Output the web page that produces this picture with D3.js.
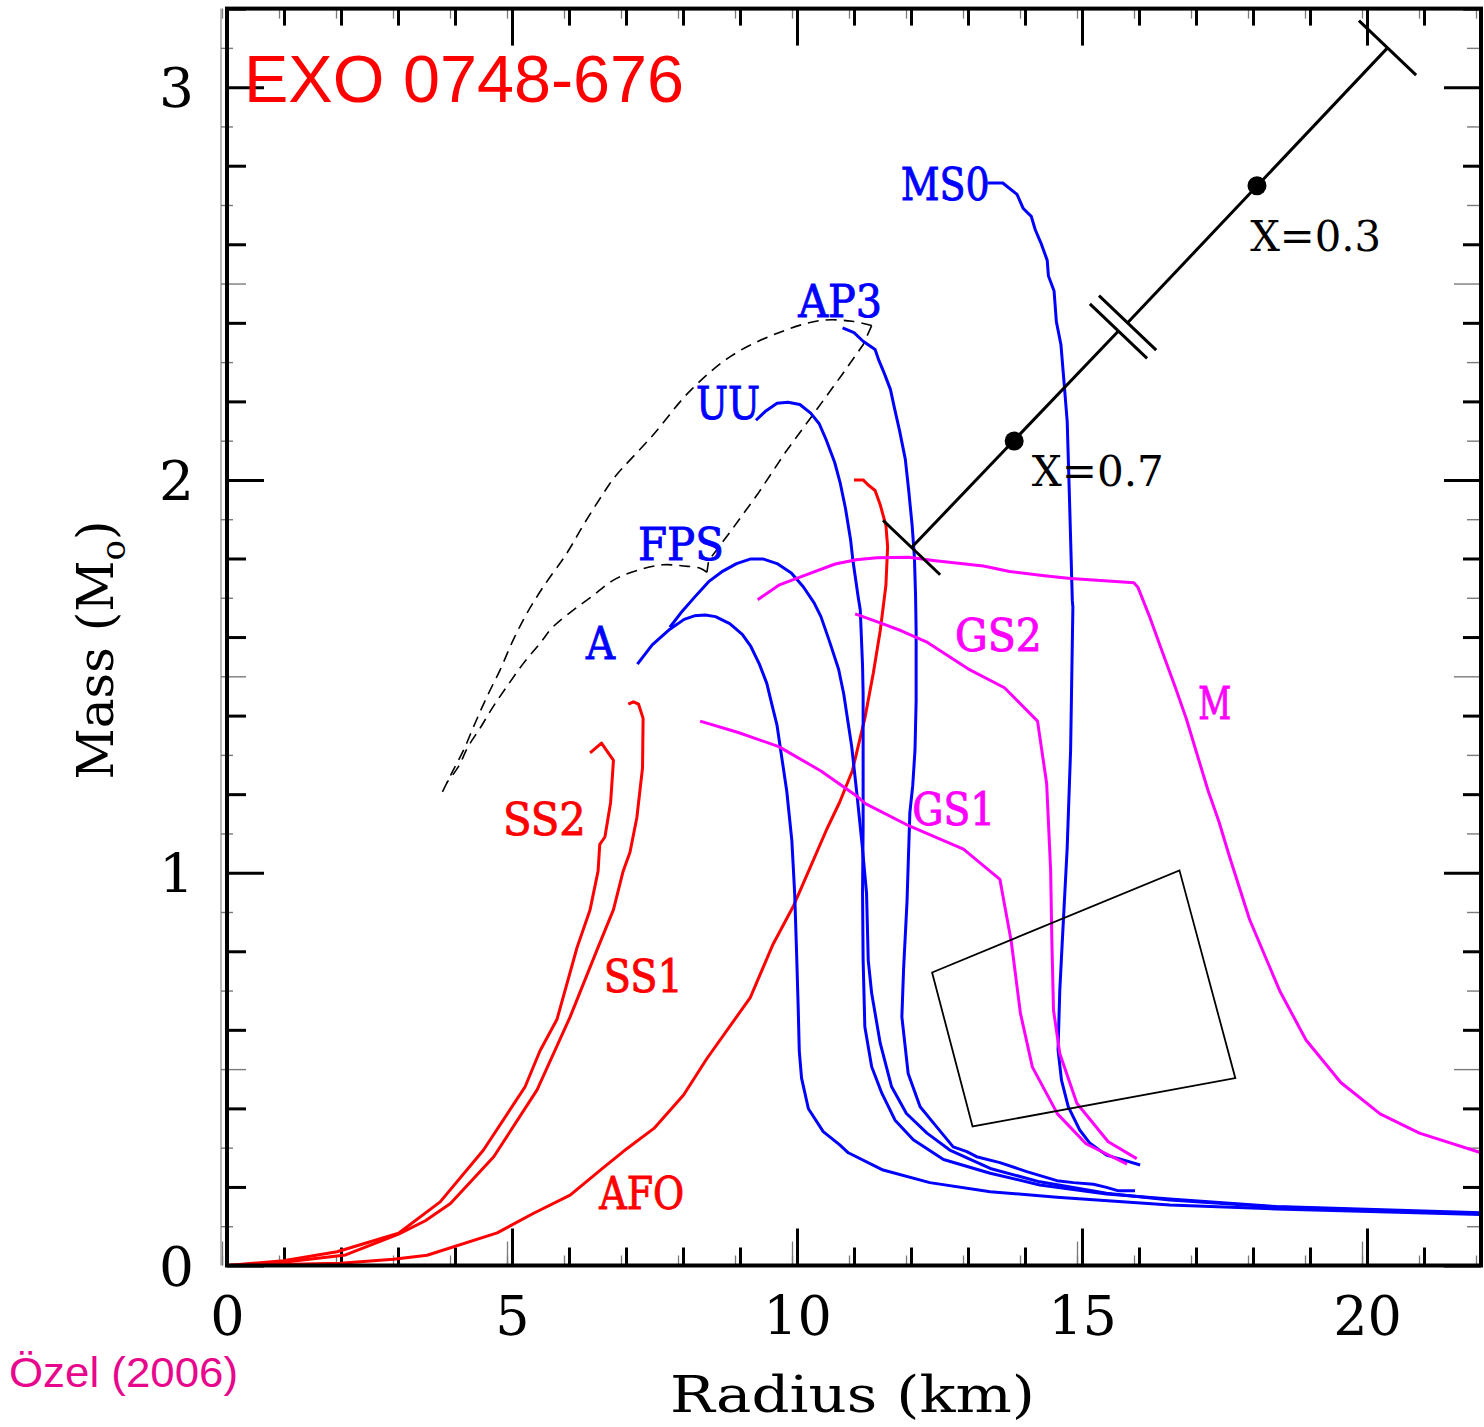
<!DOCTYPE html>
<html>
<head>
<meta charset="utf-8">
<script src="https://cdn.jsdelivr.net/npm/d3@7"></script>
<style>
html,body{margin:0;padding:0;background:#fff;}
svg{display:block;}
</style>
</head>
<body>
<svg id="chart" width="1484" height="1427"></svg>
<script>
// ---------------- DATA (radius in km, mass in solar masses) ----------------
const xTickLabels = [0, 5, 10, 15, 20];
const yTickLabels = [0, 1, 2, 3];

// strange-star / red curves
const eosAFO = [[0,0],[1.99,0.006],[2.92,0.016],[3.51,0.026],[4.74,0.083],[5.38,0.133],[6.02,0.179],[6.55,0.243],[7.02,0.298],[7.49,0.349],[8.01,0.434],[8.42,0.527],[9.18,0.682],[9.58,0.818],[9.94,0.916],[10.23,1.013],[10.52,1.110],[10.75,1.18],[10.97,1.259],[11.19,1.393],[11.34,1.509],[11.46,1.616],[11.56,1.732],[11.59,1.830],[11.56,1.884],[11.46,1.937],[11.37,1.973],[11.25,1.987],[11.16,2.0],[11.0,2.0]];
const eosSS1 = [[0,0],[0.99,0.008],[2.08,0.027],[3.01,0.080],[3.48,0.114],[3.92,0.158],[4.68,0.277],[5.44,0.447],[6.02,0.633],[6.49,0.803],[6.78,0.906],[6.95,1.004],[7.07,1.052],[7.19,1.140],[7.29,1.267],[7.30,1.393],[7.22,1.429],[7.13,1.435],[7.04,1.429]];
const eosSS2 = [[0,0],[0.99,0.012],[1.93,0.035],[3.01,0.082],[3.74,0.162],[4.50,0.294],[5.23,0.455],[5.49,0.546],[5.79,0.627],[6.14,0.809],[6.37,0.906],[6.51,1.004],[6.54,1.072],[6.63,1.091],[6.73,1.179],[6.78,1.286],[6.57,1.330],[6.37,1.305]];

// nucleonic / blue curves
const eosA = [[7.20,1.531],[7.46,1.580],[7.77,1.620],[8.02,1.645],[8.20,1.654],[8.39,1.656],[8.57,1.652],[8.82,1.634],[9.04,1.607],[9.19,1.576],[9.34,1.531],[9.47,1.482],[9.56,1.428],[9.65,1.375],[9.73,1.296],[9.82,1.208],[9.91,1.081],[9.96,0.945],[9.99,0.809],[10.02,0.662],[10.04,0.546],[10.08,0.477],[10.20,0.399],[10.46,0.341],[10.75,0.307],[10.90,0.287],[11.51,0.243],[12.33,0.211],[13.39,0.188],[14.56,0.174],[16.54,0.154],[18.41,0.144],[22.0,0.130]];
const eosFPS = [[7.77,1.625],[7.96,1.661],[8.20,1.701],[8.45,1.741],[8.70,1.768],[8.94,1.787],[9.19,1.799],[9.40,1.799],[9.65,1.787],[9.90,1.763],[10.11,1.728],[10.30,1.687],[10.42,1.652],[10.57,1.589],[10.73,1.518],[10.82,1.455],[10.96,1.321],[11.05,1.202],[11.14,1.075],[11.22,0.948],[11.25,0.777],[11.31,0.693],[11.46,0.566],[11.66,0.455],[11.92,0.387],[12.28,0.337],[12.68,0.294],[13.39,0.247],[14.26,0.213],[15.43,0.184],[16.54,0.167],[18.41,0.149],[22.0,0.132]];
const eosUU = [[9.28,2.152],[9.44,2.174],[9.65,2.195],[9.84,2.198],[10.05,2.192],[10.24,2.170],[10.39,2.143],[10.51,2.103],[10.66,2.045],[10.76,1.991],[10.85,1.928],[10.94,1.848],[10.98,1.796],[11.07,1.705],[11.11,1.669],[11.15,1.527],[11.16,1.457],[11.16,1.117],[11.15,0.948],[11.16,0.778],[11.19,0.608],[11.31,0.506],[11.49,0.438],[11.72,0.370],[12.04,0.320],[12.57,0.270],[13.39,0.235],[14.26,0.205],[15.43,0.182],[16.54,0.169],[18.41,0.150],[22.0,0.134]];
const eosAP3 = [[10.80,2.387],[11.00,2.375],[11.16,2.353],[11.37,2.332],[11.44,2.303],[11.53,2.272],[11.64,2.230],[11.71,2.183],[11.80,2.125],[11.90,2.053],[11.96,1.973],[12.02,1.884],[12.06,1.803],[12.08,1.705],[12.09,1.616],[12.09,1.437],[12.07,1.312],[12.03,1.221],[11.98,1.153],[11.93,0.926],[11.87,0.755],[11.84,0.633],[11.95,0.489],[12.16,0.404],[12.45,0.353],[12.74,0.302],[12.98,0.290],[13.15,0.277],[13.56,0.262],[14.03,0.239],[14.56,0.216],[14.85,0.211],[15.20,0.207],[15.43,0.199],[15.64,0.190],[15.93,0.190]];
const eosMS0 = [[13.34,2.756],[13.61,2.756],[13.86,2.727],[13.97,2.691],[14.11,2.671],[14.18,2.637],[14.28,2.603],[14.39,2.559],[14.41,2.520],[14.51,2.481],[14.55,2.403],[14.63,2.345],[14.68,2.257],[14.74,2.150],[14.78,1.955],[14.83,1.694],[14.84,1.676],[14.80,1.312],[14.74,1.063],[14.65,0.813],[14.61,0.699],[14.58,0.549],[14.64,0.472],[14.76,0.404],[14.96,0.345],[15.14,0.311],[15.43,0.281],[15.72,0.269],[16.02,0.256]];

// hybrid / magenta curves
const eosGS1 = [[8.30,1.386],[8.97,1.357],[9.68,1.321],[10.42,1.259],[11.04,1.196],[11.20,1.176],[11.97,1.119],[12.92,1.060],[13.56,0.983],[13.76,0.824],[13.92,0.642],[14.13,0.505],[14.57,0.386],[15.07,0.310],[15.79,0.258]];
const eosGS2 = [[11.02,1.659],[11.46,1.636],[11.83,1.616],[12.27,1.588],[13.00,1.519],[13.64,1.471],[14.22,1.386],[14.38,1.227],[14.45,1.006],[14.47,0.835],[14.50,0.650],[14.61,0.540],[14.91,0.413],[15.46,0.315],[15.96,0.272]];
const eosM = [[9.31,1.695],[9.68,1.732],[10.17,1.759],[10.67,1.786],[11.04,1.797],[11.40,1.802],[11.96,1.803],[12.39,1.795],[13.27,1.781],[13.73,1.767],[14.34,1.756],[14.80,1.749],[15.33,1.744],[15.91,1.738],[15.98,1.727],[16.18,1.654],[16.41,1.562],[16.64,1.471],[16.83,1.392],[17.02,1.301],[17.21,1.210],[17.40,1.131],[17.59,1.040],[17.94,0.881],[18.47,0.699],[18.93,0.574],[19.54,0.466],[20.23,0.386],[20.92,0.337],[22.0,0.287]];

// dashed boundary: outer arc, diagonal, inner arc
const dashedOuter = [[3.78,1.206],[3.94,1.253],[4.15,1.312],[4.35,1.380],[4.56,1.448],[4.79,1.516],[5.02,1.592],[5.26,1.660],[5.55,1.728],[5.96,1.813],[6.28,1.892],[6.70,1.987],[6.81,2.009],[7.46,2.112],[8.12,2.226],[8.85,2.316],[9.68,2.375],[10.42,2.406],[10.97,2.404],[11.31,2.393]];
const dashedDiag = [[11.31,2.393],[11.16,2.344],[10.79,2.268],[10.30,2.170],[9.80,2.071],[9.31,1.964],[8.82,1.866],[8.45,1.795],[8.42,1.765]];
const dashedInner = [[8.42,1.765],[8.30,1.775],[8.01,1.781],[7.65,1.784],[7.25,1.772],[6.78,1.745],[6.40,1.703],[6.08,1.669],[5.72,1.626],[5.49,1.584],[5.20,1.533],[4.91,1.474],[4.67,1.423],[4.44,1.368],[4.23,1.321],[4.06,1.270],[3.85,1.228]];

// redshift constraint line, hydrogen fraction points, and the error box
const errorBarLow = [[12.01,1.828],[15.64,2.379]];
const errorBarHigh = [[15.80,2.400],[20.36,3.100]];
const hydrogenPoints = [[13.81,2.099],[18.07,2.749]];
const hydrogenLabels = ['X=0.7','X=0.3'];
const constraintBox = [[12.37,0.746],[16.71,1.006],[17.69,0.477],[13.08,0.354]];

// ---------------- LAYOUT ----------------
const RED = '#ff0000', BLUE = '#0000ff', MAG = '#ff00ff';
const curves = [
  {name:'AFO', pts:eosAFO, color:RED},
  {name:'SS1', pts:eosSS1, color:RED},
  {name:'SS2', pts:eosSS2, color:RED},
  {name:'A',   pts:eosA,   color:BLUE},
  {name:'FPS', pts:eosFPS, color:BLUE},
  {name:'UU',  pts:eosUU,  color:BLUE},
  {name:'AP3', pts:eosAP3, color:BLUE},
  {name:'MS0', pts:eosMS0, color:BLUE},
  {name:'GS1', pts:eosGS1, color:MAG},
  {name:'GS2', pts:eosGS2, color:MAG},
  {name:'M',   pts:eosM,   color:MAG}
];
// label anchor (left, baseline) in data coordinates, and text length in px
const labelPlace = {
  MS0:[11.82,2.713,89], AP3:[10.02,2.416,84], UU:[8.23,2.156,64], FPS:[7.21,1.795,86],
  A:[6.30,1.544,29], SS2:[4.84,1.096,83], SS1:[6.61,0.696,79], AFO:[6.53,0.144,85],
  GS2:[12.77,1.564,87], GS1:[12.02,1.121,83], M:[17.04,1.392,33]
};
const hLabelPlace = [[14.12,1.984,132],[17.95,2.583,131]];

const svg = d3.select('#chart');
const x = d3.scaleLinear().domain([0, 22]).range([227, 1481]);
const y = d3.scaleLinear().domain([0, 3.2]).range([1265.5, 8.6]);
const SERIF = "'DejaVu Serif', serif";
const SANS = "'Liberation Sans', Arial, sans-serif";

// ghost line left of the y axis
svg.append('line').attr('x1',221).attr('x2',221).attr('y1',y(3.2)).attr('y2',y(0))
  .attr('stroke','#8a8a8a').attr('stroke-width',1.2);

function drawAxis(gen, tx, ty, color, width){
  const g = svg.append('g').attr('transform',`translate(${tx},${ty})`).call(gen);
  g.select('.domain').remove();
  g.selectAll('.tick line').attr('stroke',color).attr('stroke-width',width);
  return g;
}
const ints = d3.range(0,23);
const fives = xTickLabels;
const tenthIdx = d3.range(0,33);
const yInt = tenthIdx.filter(i=>i%10===0).map(i=>i/10);
const yHalf = tenthIdx.filter(i=>i%5===0 && i%10!==0).map(i=>i/10);
const yEven = tenthIdx.filter(i=>i%2===0 && i%10!==0).map(i=>i/10);
const yOdd = tenthIdx.filter(i=>i%2===1 && i%5!==0).map(i=>i/10);
const GREY = '#7a7a7a';

// bottom axis
drawAxis(d3.axisBottom(x).tickValues(ints).tickSize(-10).tickFormat(''), -5, y(0), GREY, 1.3);
drawAxis(d3.axisBottom(x).tickValues(fives).tickSize(-24).tickFormat(''), -5, y(0), GREY, 1.3);
drawAxis(d3.axisBottom(x).tickValues(ints).tickSize(-18).tickFormat(''), 0, y(0), '#000', 3);
const gb = drawAxis(d3.axisBottom(x).tickValues(fives).tickSize(-37).tickPadding(31).tickFormat(d3.format('d')), 0, y(0), '#000', 3);
gb.attr('font-family', SERIF).attr('font-size', 54);
gb.selectAll('text').attr('fill','#000');

// top axis
drawAxis(d3.axisTop(x).tickValues(ints).tickSize(-10).tickFormat(''), -5, y(3.2), GREY, 1.3);
drawAxis(d3.axisTop(x).tickValues(ints).tickSize(-17).tickFormat(''), 0, y(3.2), '#000', 3);
drawAxis(d3.axisTop(x).tickValues(fives).tickSize(-37).tickFormat(''), 0, y(3.2), '#000', 3);

// left axis
drawAxis(d3.axisLeft(y).tickValues(yOdd).tickSize(-12).tickFormat(''), 221, 0, GREY, 1.4);
drawAxis(d3.axisLeft(y).tickValues(yHalf).tickSize(-25).tickFormat(''), 221, 0, GREY, 1.4);
drawAxis(d3.axisLeft(y).tickValues(yEven).tickSize(-19).tickFormat(''), 227, 0, '#000', 3);
const gl = drawAxis(d3.axisLeft(y).tickValues(yTickLabels).tickSize(-37).tickPadding(33).tickFormat(d3.format('d')), 227, 0, '#000', 3);
gl.attr('font-family', SERIF).attr('font-size', 55);
gl.selectAll('text').attr('fill','#000').attr('dy','0.36em');

// right axis
drawAxis(d3.axisRight(y).tickValues(yOdd).tickSize(-14).tickFormat(''), 1481, 0, GREY, 1.4);
drawAxis(d3.axisRight(y).tickValues(yHalf).tickSize(-27).tickFormat(''), 1481, 0, GREY, 1.4);
drawAxis(d3.axisRight(y).tickValues(yEven).tickSize(-18).tickFormat(''), 1481, 0, '#000', 3);
drawAxis(d3.axisRight(y).tickValues(yInt).tickSize(-37).tickFormat(''), 1481, 0, '#000', 3);

// curves
const line = d3.line().x(d=>x(d[0])).y(d=>y(d[1]));
const smooth = d3.line().x(d=>x(d[0])).y(d=>y(d[1])).curve(d3.curveCatmullRom.alpha(0.5));
const plot = svg.append('g');
[dashedOuter, dashedDiag, dashedInner].forEach((seg,i)=>{
  plot.append('path').datum(seg).attr('d', i===1 ? line : smooth)
    .attr('fill','none').attr('stroke','#000').attr('stroke-width',1.6).attr('stroke-dasharray','11,7');
});
curves.forEach(c=>{
  plot.append('path').datum(c.pts).attr('d', line)
    .attr('fill','none').attr('stroke',c.color).attr('stroke-width',3)
    .attr('stroke-linejoin','round').attr('stroke-linecap','butt');
});

// constraint box
plot.append('path').datum(constraintBox)
  .attr('d', d3.line().x(d=>x(d[0])).y(d=>y(d[1])).curve(d3.curveLinearClosed))
  .attr('fill','none').attr('stroke','#000').attr('stroke-width',1.8);

// error bar line with perpendicular caps
[errorBarLow, errorBarHigh].forEach(seg=>{
  plot.append('path').datum(seg).attr('d', line).attr('stroke','#000').attr('stroke-width',3).attr('fill','none');
});
const p0 = [x(errorBarLow[0][0]), y(errorBarLow[0][1])];
const p1 = [x(errorBarHigh[1][0]), y(errorBarHigh[1][1])];
const L = Math.hypot(p1[0]-p0[0], p1[1]-p0[1]);
const dir = [(p1[0]-p0[0])/L, (p1[1]-p0[1])/L];
const perp = [-dir[1], dir[0]];
const capHalf = 39.5;
[errorBarLow[0], errorBarLow[1], errorBarHigh[0], errorBarHigh[1]].forEach(p=>{
  const cx = x(p[0]), cy = y(p[1]);
  plot.append('line')
    .attr('x1', cx - perp[0]*capHalf).attr('y1', cy - perp[1]*capHalf)
    .attr('x2', cx + perp[0]*capHalf).attr('y2', cy + perp[1]*capHalf)
    .attr('stroke','#000').attr('stroke-width',3);
});
plot.selectAll('circle.hp').data(hydrogenPoints).join('circle').attr('class','hp')
  .attr('cx', d=>x(d[0])).attr('cy', d=>y(d[1])).attr('r', 9.5).attr('fill','#000');

// curve labels
curves.forEach(c=>{
  const p = labelPlace[c.name];
  svg.append('text').text(c.name)
    .attr('x', x(p[0])).attr('y', y(p[1]))
    .attr('font-family', SERIF).attr('font-size', 44).attr('fill', c.color)
    .attr('stroke', c.color).attr('stroke-width', 0.9)
    .attr('textLength', p[2]).attr('lengthAdjust','spacingAndGlyphs');
});
hydrogenLabels.forEach((t,i)=>{
  const p = hLabelPlace[i];
  svg.append('text').text(t)
    .attr('x', x(p[0])).attr('y', y(p[1]))
    .attr('font-family', SERIF).attr('font-size', 42).attr('fill', '#000')
    .attr('textLength', p[2]).attr('lengthAdjust','spacingAndGlyphs');
});

// frame
svg.append('rect').attr('x', x(0)).attr('y', y(3.2)).attr('width', x(22)-x(0)).attr('height', y(0)-y(3.2))
  .attr('fill','none').attr('stroke','#000').attr('stroke-width',4);

// titles
svg.append('text').text('EXO 0748-676').attr('x',244).attr('y',102)
  .attr('font-family', SANS).attr('font-size',67).attr('fill',RED)
  .attr('textLength',440).attr('lengthAdjust','spacingAndGlyphs');
svg.append('text').text('Özel (2006)').attr('x',9).attr('y',1387)
  .attr('font-family', SANS).attr('font-size',42).attr('fill','#e8078c')
  .attr('textLength',229).attr('lengthAdjust','spacingAndGlyphs');

svg.append('text').text('Radius (km)').attr('x',852.5).attr('y',1412)
  .attr('text-anchor','middle').attr('font-family',SERIF).attr('font-size',50).attr('fill','#000')
  .attr('textLength',365).attr('lengthAdjust','spacingAndGlyphs');

const yl = svg.append('text').attr('transform','translate(113,650) rotate(-90)')
  .attr('text-anchor','middle').attr('font-family',SERIF).attr('font-size',50).attr('fill','#000');
yl.append('tspan').text('Mass (M');
yl.append('tspan').text('o').attr('font-size',34).attr('dy',12);
yl.append('tspan').text(')').attr('dy',-12);
</script>
</body>
</html>
